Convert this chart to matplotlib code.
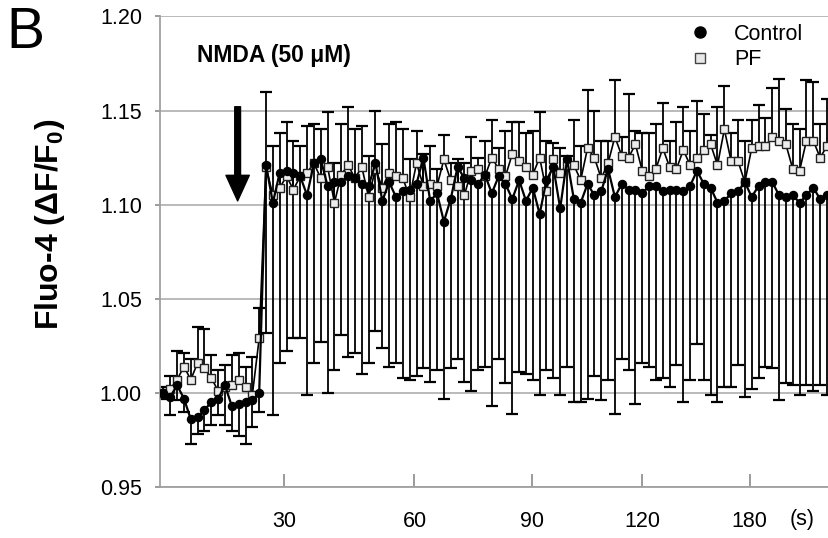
import numpy as np
import matplotlib
matplotlib.use("Agg")
import matplotlib.pyplot as plt
from matplotlib.lines import Line2D

plt.rcParams["font.family"] = ["Liberation Sans", "DejaVu Sans"]
plt.rcParams["mathtext.fontset"] = "custom"
plt.rcParams["mathtext.default"] = "bf"
plt.rcParams["mathtext.bf"] = "Liberation Sans:bold"

# Fluo-4 traces, one value per frame
control = [1.000, 0.998, 1.004, 0.997, 0.986, 0.987, 0.991, 0.995, 0.997, 1.004,
           0.993, 0.994, 0.995, 0.996, 1.000,
           1.121, 1.101, 1.117, 1.118, 1.117, 1.115, 1.105, 1.122, 1.124, 1.110,
           1.112, 1.112, 1.115, 1.114, 1.111, 1.110, 1.122, 1.102, 1.112, 1.104,
           1.107, 1.108, 1.111, 1.125, 1.102, 1.106, 1.091, 1.103,
           1.120, 1.114, 1.113, 1.111, 1.116, 1.106, 1.115, 1.111, 1.103, 1.113,
           1.102, 1.109, 1.095, 1.113, 1.120, 1.098, 1.124, 1.103, 1.101, 1.111,
           1.105, 1.107, 1.119, 1.104, 1.111, 1.108, 1.108, 1.106, 1.110,
           1.110, 1.107, 1.108, 1.108, 1.107, 1.110, 1.118, 1.111, 1.109, 1.101,
           1.102, 1.106, 1.107, 1.112, 1.104, 1.110, 1.112, 1.112, 1.105, 1.104,
           1.105, 1.101, 1.105, 1.109, 1.103, 1.105]
control_err = [0.003, 0.010, 0.008, 0.007, 0.013, 0.009, 0.011, 0.012, 0.009, 0.021,
               0.013, 0.017, 0.022, 0.014, 0.010,
               0.089, 0.113, 0.101, 0.096, 0.088, 0.086, 0.106, 0.106, 0.097, 0.110,
               0.100, 0.081, 0.096, 0.093, 0.101, 0.094, 0.089, 0.078, 0.098, 0.088,
               0.099, 0.101, 0.102, 0.112, 0.096, 0.094, 0.094, 0.090,
               0.102, 0.108, 0.112, 0.099, 0.102, 0.113, 0.097, 0.106, 0.114, 0.102,
               0.092, 0.102, 0.096, 0.101, 0.112, 0.099, 0.110, 0.108, 0.106, 0.114,
               0.096, 0.111, 0.112, 0.115, 0.093, 0.096, 0.114, 0.090, 0.096,
               0.103, 0.099, 0.105, 0.093, 0.112, 0.103, 0.092, 0.104, 0.110, 0.106,
               0.099, 0.103, 0.092, 0.114, 0.102, 0.102, 0.098, 0.099, 0.109, 0.099,
               0.101, 0.102, 0.101, 0.108, 0.099, 0.106]
pf = [1.000, 1.002, 1.007, 1.014, 1.007, 1.016, 1.013, 1.008, 1.001, 1.003,
      1.004, 1.007, 1.003, 0.999, 1.029,
      1.120, 1.105, 1.109, 1.115, 1.108, 1.115, 1.117, 1.122, 1.114, 1.120,
      1.101, 1.116, 1.121, 1.114, 1.120, 1.104, 1.119, 1.109, 1.117, 1.115,
      1.114, 1.104, 1.122, 1.110, 1.111, 1.110, 1.124, 1.113,
      1.110, 1.105, 1.118, 1.119, 1.115, 1.125, 1.119, 1.115, 1.127, 1.123,
      1.120, 1.116, 1.125, 1.107, 1.124, 1.117, 1.121, 1.121, 1.113, 1.130,
      1.125, 1.114, 1.122, 1.136, 1.126, 1.125, 1.132, 1.118, 1.115,
      1.119, 1.130, 1.120, 1.119, 1.129, 1.121, 1.125, 1.129, 1.132, 1.121,
      1.140, 1.123, 1.123, 1.112, 1.130, 1.131, 1.131, 1.136, 1.134, 1.132,
      1.119, 1.118, 1.134, 1.134, 1.125, 1.131]
pf_err = [0.003, 0.007, 0.015, 0.007, 0.011, 0.019, 0.021, 0.012, 0.011, 0.012,
          0.016, 0.014, 0.011, 0.020, 0.016,
          0.040, 0.026, 0.029, 0.029, 0.026, 0.016, 0.025, 0.021, 0.026, 0.029,
          0.021, 0.027, 0.031, 0.026, 0.022, 0.022, 0.031, 0.023, 0.026, 0.029,
          0.026, 0.020, 0.017, 0.017, 0.020, 0.009, 0.013, 0.009,
          0.014, 0.017, 0.018, 0.006, 0.019, 0.020, 0.011, 0.024, 0.017, 0.021,
          0.018, 0.023, 0.024, 0.027, 0.009, 0.013, 0.005, 0.024, 0.018, 0.031,
          0.025, 0.020, 0.012, 0.030, 0.010, 0.034, 0.007, 0.020, 0.023,
          0.024, 0.024, 0.014, 0.025, 0.023, 0.018, 0.030, 0.019, 0.005, 0.031,
          0.023, 0.015, 0.022, 0.022, 0.015, 0.022, 0.015, 0.026, 0.033, 0.019,
          0.024, 0.022, 0.032, 0.031, 0.018, 0.025]

# x axis is a frame index; labels sit at these frames
tick_frames = [17.6, 36.7, 53.9, 70.0, 85.7]
tick_labels = ["30", "60", "90", "120", "180"]
y_ticks = [0.95, 1.00, 1.05, 1.10, 1.15, 1.20]
nmda_frame = 10.85

GRID = "#b4b4b4"
AXIS = "#a0a0a0"


def one_sided_bars(ax, x, y, err, up):
    y = np.asarray(y)
    err = np.asarray(err)
    end = y + err if up else y - err
    ax.vlines(x, y, end, color="black", lw=1.3, zorder=2)
    ax.plot(x, end, ls="none", marker="_", ms=9, mew=1.6, color="black", zorder=2)


def main():
    fig = plt.figure(figsize=(8.29, 5.38), dpi=100)
    ax = fig.add_axes([160 / 829, 51 / 538, 669 / 829, 470.6 / 538])

    frames = np.arange(len(control))

    one_sided_bars(ax, frames, pf, pf_err, up=True)
    one_sided_bars(ax, frames, control, control_err, up=False)

    ax.plot(frames, pf, color="black", lw=1.2, marker="s", ms=5.4,
            mfc="#ececec", mec="#222222", mew=1.0, zorder=3)
    ax.plot(frames, control, color="black", lw=1.6, marker="o", ms=5.8,
            mfc="black", mec="black", zorder=4)

    ax.set_xlim(-0.5, 97.3)
    ax.set_ylim(0.95, 1.20)
    ax.set_yticks(y_ticks)
    ax.set_yticklabels(["%.2f" % v for v in y_ticks])
    ax.set_xticks(tick_frames)
    ax.set_xticklabels(tick_labels)
    ax.yaxis.grid(True, color=GRID, lw=1.3)
    ax.set_axisbelow(True)

    for side in ["top", "right"]:
        ax.spines[side].set_visible(False)
    for side in ["left", "bottom"]:
        ax.spines[side].set_color(AXIS)
        ax.spines[side].set_linewidth(1.3)

    ax.tick_params(axis="x", direction="in", length=9.5, width=1.2, color="#8a8a8a",
                   pad=17, labelsize=15.5)
    ax.tick_params(axis="y", direction="out", length=3.5, width=1.2, color="#8a8a8a",
                   pad=9.5, labelsize=15.5)

    fig.text(802 / 829, 1 - 520 / 538, "(s)", fontsize=15.5, ha="center", va="center")

    fig.text(50 / 829, 1 - 224 / 538, "Fluo-4 (ΔF/F$_0$)", fontsize=23,
             fontweight="bold", rotation=90, ha="center", va="center")
    fig.text(6 / 829, 1 - 48 / 538, "B", fontsize=41, ha="left", va="baseline")
    fig.text(197 / 829, 1 - 62 / 538, "NMDA (50 μM)", fontsize=16.5,
             fontweight="bold", ha="left", va="baseline")

    ax.annotate("", xy=(nmda_frame, 1.102), xytext=(nmda_frame, 1.152),
                arrowprops=dict(arrowstyle="simple,head_width=1.05,head_length=1.15,tail_width=0.26",
                                mutation_scale=16, color="black", shrinkA=0, shrinkB=0))

    handles = [Line2D([], [], ls="none", marker="o", ms=8, color="black"),
               Line2D([], [], ls="none", marker="s", ms=7, mfc="#e8e8e8", mec="#444444", mew=1.0)]
    fig.legend(handles, ["Control", "PF"], loc="upper left",
               bbox_to_anchor=(689 / 829, 1 - 24 / 538), frameon=False,
               fontsize=15.5, handlelength=1.0, handletextpad=1.1,
               labelspacing=0.2, borderpad=0, borderaxespad=0)

    fig.savefig("out.png", dpi=100)


if __name__ == "__main__":
    main()
